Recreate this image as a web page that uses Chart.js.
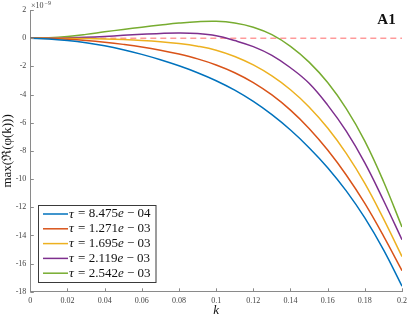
<!DOCTYPE html>
<html>
<head>
<meta charset="utf-8">
<script src="https://cdn.jsdelivr.net/npm/chart.js@4/dist/chart.umd.min.js"></script>
<style>
  html, body { margin: 0; padding: 0; background: #fff; }
  #wrap { width: 411px; height: 319px; }
</style>
</head>
<body>
<div id="wrap"><canvas id="phiChart" width="411" height="319"></canvas></div>
<script>
// k values (x axis)
const kValues = [0, 0.01, 0.02, 0.03, 0.04, 0.05, 0.06, 0.07, 0.08, 0.09, 0.10,
                 0.11, 0.12, 0.13, 0.14, 0.15, 0.16, 0.17, 0.18, 0.19, 0.20];

// max(Re(phi(k))) in units of 1e-9, one array per tau
const tauLabels = ['8.475e − 04', '1.271e − 03', '1.695e − 03', '2.119e − 03', '2.542e − 03'];
const tau1 = [0, -0.05, -0.16, -0.32, -0.54, -0.82, -1.15, -1.53, -1.96, -2.45, -3.02,
              -3.69, -4.49, -5.43, -6.52, -7.77, -9.19, -10.84, -12.76, -15.01, -17.60];
const tau2 = [0, -0.02, -0.08, -0.17, -0.29, -0.44, -0.62, -0.85, -1.13, -1.47, -1.90,
              -2.45, -3.15, -4.03, -5.11, -6.41, -7.94, -9.71, -11.73, -14.03, -16.50];
const tau3 = [0, 0, -0.01, -0.03, -0.06, -0.10, -0.16, -0.25, -0.38, -0.57, -0.85,
              -1.30, -1.90, -2.68, -3.66, -4.88, -6.38, -8.18, -10.31, -12.81, -15.50];
const tau4 = [0, 0.005, 0.025, 0.06, 0.12, 0.20, 0.28, 0.34, 0.37, 0.33, 0.17,
              -0.17, -0.60, -1.22, -2.10, -3.20, -4.75, -6.60, -8.85, -11.50, -14.30];
const tau5 = [0, 0.03, 0.12, 0.27, 0.45, 0.62, 0.78, 0.93, 1.07, 1.17, 1.20,
              1.08, 0.78, 0.25, -0.58, -1.70, -3.15, -5.00, -7.30, -10.15, -13.40];
const zeroLine = [0, 0];
const zeroK = [0, 0.2];

const colors = ['#0072BD', '#D95319', '#EDB120', '#7E2F8E', '#77AC30'];
const series = [tau1, tau2, tau3, tau4, tau5];

const datasets = series.map(function (vals, i) {
    return {
        label: 'τ = ' + tauLabels[i],
        data: vals.map(function (v, j) { return { x: kValues[j], y: v }; }),
        borderColor: colors[i],
        borderWidth: 1.5,
        pointRadius: 0,
        fill: false,
        tension: 0.4
    };
});
datasets.push({
    label: 'zero',
    data: zeroLine.map(function (v, j) { return { x: zeroK[j], y: v }; }),
    borderColor: '#FF6A6A',
    borderWidth: 1,
    borderDash: [6, 4],
    pointRadius: 0,
    fill: false
});

const serif = '"Liberation Serif", "DejaVu Serif", serif';
const axisColor = '#8a8a8a';

// inward ticks, legend box and labels
const extras = {
    id: 'extras',
    afterDraw: function (chart) {
        const ctx = chart.ctx;
        const xs = chart.scales.x, ys = chart.scales.y;
        const area = chart.chartArea;
        ctx.save();
        ctx.strokeStyle = axisColor;
        ctx.lineWidth = 1;
        ctx.beginPath();
        xs.ticks.forEach(function (t) {
            const px = Math.round(xs.getPixelForValue(t.value)) + 0.5;
            ctx.moveTo(px, area.bottom);
            ctx.lineTo(px, area.bottom - 3.5);
        });
        ys.ticks.forEach(function (t) {
            const py = Math.round(ys.getPixelForValue(t.value)) + 0.5;
            ctx.moveTo(area.left, py);
            ctx.lineTo(area.left + 3.5, py);
        });
        ctx.stroke();

        // legend
        const bx = 38.5, by = 205.5, bw = 117.5, bh = 77;
        ctx.fillStyle = '#fff';
        ctx.fillRect(bx, by, bw, bh);
        ctx.strokeStyle = '#3a3a3a';
        ctx.lineWidth = 1;
        ctx.strokeRect(bx, by, bw, bh);
        for (let i = 0; i < 5; i++) {
            const yy = 214 + i * 14.8;
            ctx.strokeStyle = colors[i];
            ctx.lineWidth = 1.5;
            ctx.beginPath();
            ctx.moveTo(43, yy);
            ctx.lineTo(68, yy);
            ctx.stroke();
            ctx.fillStyle = '#111';
            ctx.textBaseline = 'middle';
            ctx.textAlign = 'left';
            ctx.font = 'italic 13.5px ' + serif;
            ctx.fillText('τ', 69, yy);
            const parts = tauLabels[i].split('e');
            let x = 69 + ctx.measureText('τ').width + 1;
            ctx.font = '13px ' + serif;
            ctx.fillText(' = ' + parts[0], x, yy);
            x += ctx.measureText(' = ' + parts[0]).width;
            ctx.font = 'italic 13px ' + serif;
            ctx.fillText('e', x, yy);
            x += ctx.measureText('e').width;
            ctx.font = '13px ' + serif;
            ctx.fillText(parts[1], x, yy);
        }

        // exponent label
        ctx.fillStyle = '#444';
        ctx.textAlign = 'left';
        ctx.textBaseline = 'alphabetic';
        ctx.font = '8px ' + serif;
        ctx.fillText('×10', 31, 8);
        ctx.font = '6px ' + serif;
        ctx.fillText('−9', 44.5, 5);

        // panel label
        ctx.fillStyle = '#111';
        ctx.font = 'bold 15px ' + serif;
        ctx.textAlign = 'center';
        ctx.fillText('A1', 386.5, 23.5);
        ctx.restore();
    }
};

new Chart(document.getElementById('phiChart').getContext('2d'), {
    type: 'line',
    data: { datasets: datasets },
    options: {
        responsive: false,
        animation: false,
        layout: { padding: { left: 0, right: 5.5, top: 10, bottom: 0 } },
        plugins: {
            legend: { display: false },
            tooltip: { enabled: false }
        },
        scales: {
            x: {
                type: 'linear',
                min: 0,
                max: 0.2,
                grid: { display: false, drawTicks: false },
                border: { display: true, color: axisColor, width: 1 },
                ticks: {
                    stepSize: 0.02,
                    padding: 4,
                    color: '#444',
                    font: { family: serif, size: 8 },
                    maxRotation: 0,
                    callback: function (v) { return String(+v.toFixed(2)); }
                },
                title: {
                    display: true,
                    text: 'k',
                    color: '#111',
                    padding: { top: 0, bottom: 1 },
                    font: { family: serif, size: 13, style: 'italic' }
                },
                afterFit: function (scale) { scale.height = 27.2; }
            },
            y: {
                min: -18,
                max: 2,
                grid: { display: false, drawTicks: false },
                border: { display: true, color: axisColor, width: 1 },
                ticks: {
                    stepSize: 2,
                    padding: 4,
                    color: '#444',
                    font: { family: serif, size: 8 },
                    callback: function (v) { return String(v); }
                },
                title: {
                    display: true,
                    text: 'max(ℜ(φ(k)))',
                    color: '#111',
                    padding: { top: 0, bottom: 0 },
                    font: { family: serif, size: 13 }
                },
                afterFit: function (scale) { scale.width = 30.3; }
            }
        }
    },
    plugins: [extras]
});
</script>
</body>
</html>
